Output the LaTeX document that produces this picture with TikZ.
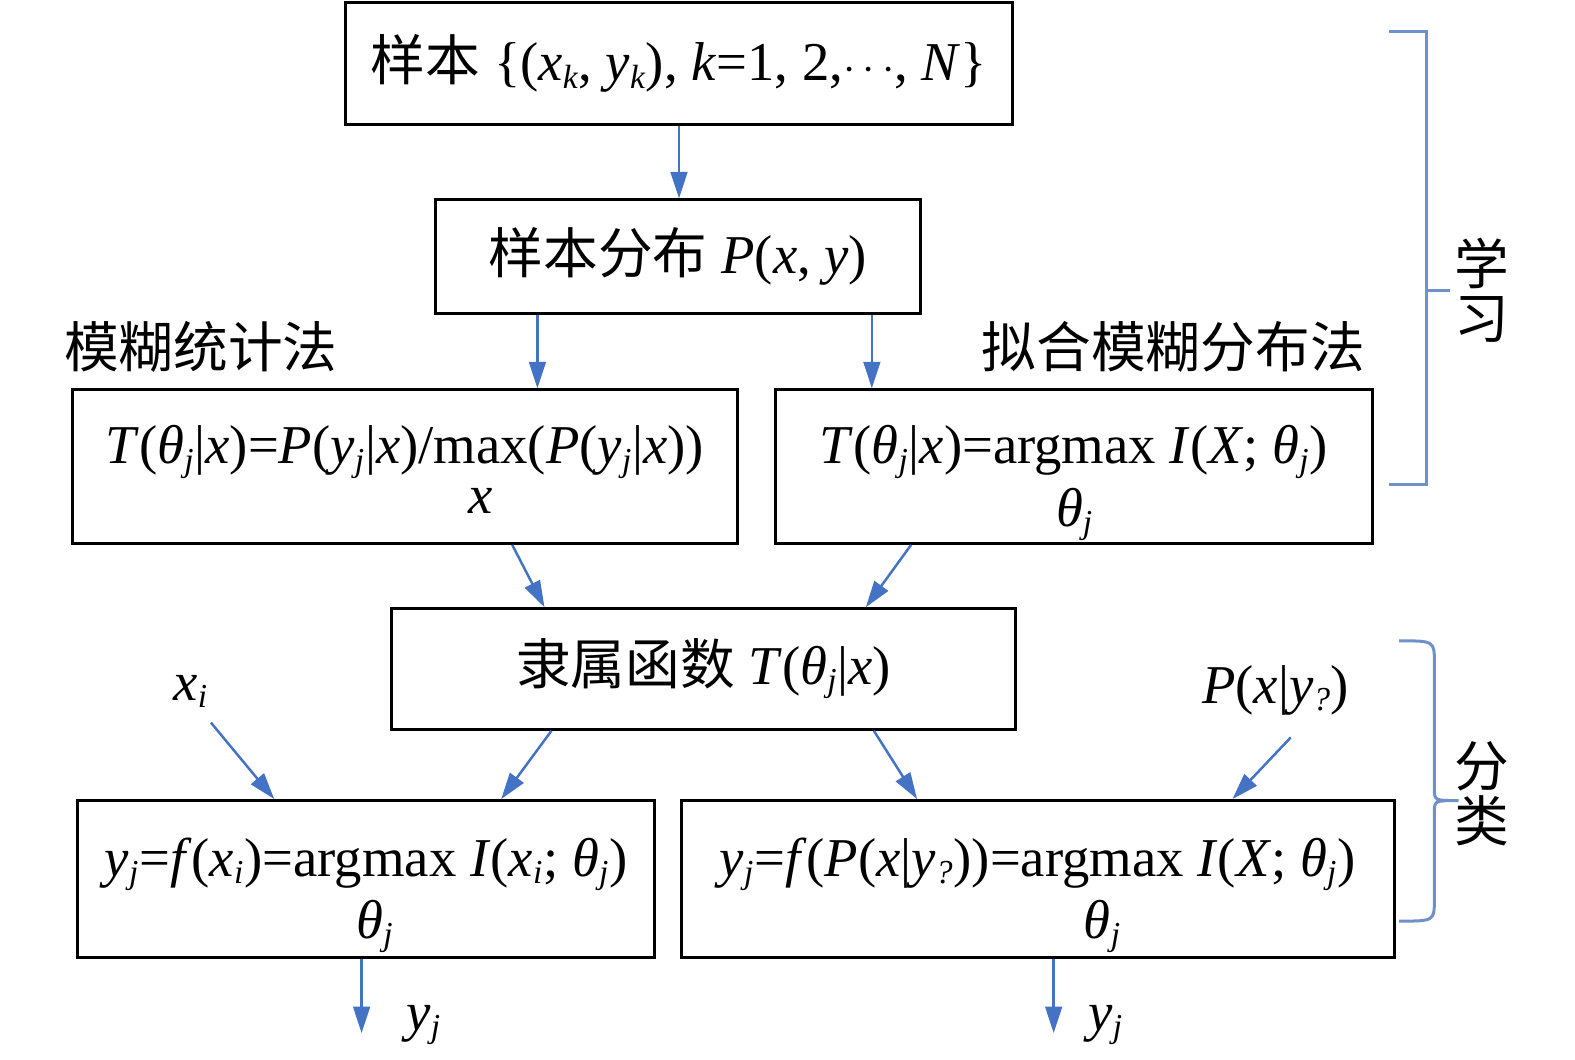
\documentclass[tikz,border=0pt]{standalone}
\usepackage{fontspec}
\setmainfont{Liberation Serif}
\newfontfamily\cjk{Noto Sans CJK SC}
\usetikzlibrary{arrows.meta,calc}
\definecolor{arrblue}{RGB}{68,114,196}
\definecolor{brkblue}{RGB}{112,144,204}
% italic letter, subscript, operator with its limit under it
\newcommand{\vi}[1]{\textit{#1}}
\newcommand{\sbs}[1]{\ensuremath{_{\hbox{\fontsize{19}{21}\selectfont\itshape #1}}}}
\newcommand{\opu}[2]{\ensuremath{\mathop{\hbox{\raisebox{0pt}[\height][0pt]{#1}}}\limits_{\vbox{\kern12pt\hbox{#2}}}}}
\begin{document}
\begin{tikzpicture}[x=0.02cm,y=-0.02cm,
    every node/.style={font=\fontsize{31}{33}\selectfont, inner sep=0pt},
    box/.style={draw, line width=1.7pt},
    twoline/.style={text height=0pt, text depth=3pt},
    arr/.style={draw=arrblue, line width=1.4pt, -{Triangle[length=15pt,width=9.5pt]}},
    brk/.style={draw=brkblue, line width=1.7pt}]
    \useasboundingbox (0,0) rectangle (1568,1055);
    % learning part
    \node[box, minimum width=13.28cm, minimum height=2.44cm] (top) at (676,63)
        {{\cjk 样本} \{(\vi{x}\sbs{k}, \vi{y}\sbs{k}), \vi{k}=1, 2,$\cdots$, \vi{N}\}};
    \node[box, minimum width=9.64cm, minimum height=2.26cm] (dist) at (675,255.5)
        {{\cjk 样本分布} \vi{P}(\vi{x}, \vi{y})};
    \node[box, twoline, minimum width=13.24cm, minimum height=3.06cm] (l3) at (403,464.5)
        {\vi{T}(\vi{θ}\sbs{j}|\vi{x})=\vi{P}(\vi{y}\sbs{j}|\vi{x})/\opu{max}{\vi{x}}(\vi{P}(\vi{y}\sbs{j}|\vi{x}))};
    \node[box, twoline, minimum width=11.88cm, minimum height=3.06cm] (r3) at (1069,464.5)
        {\vi{T}(\vi{θ}\sbs{j}|\vi{x})=\opu{argmax}{\vi{θ}\sbs{j}} \vi{I}(\vi{X}; \vi{θ}\sbs{j})};
    \node (lname) at (200,345) {\cjk 模糊统计法};
    \node (rname) at (1168,345) {\cjk 拟合模糊分布法};
    % classification part
    \node[box, minimum width=12.42cm, minimum height=2.40cm] (mf) at (700.5,666)
        {{\cjk 隶属函数} \vi{T}(\vi{θ}\sbs{j}|\vi{x})};
    \node[box, twoline, minimum width=11.5cm, minimum height=3.12cm] (l5) at (364.5,875)
        {\vi{y}\sbs{j}=\vi{f}(\vi{x}\sbs{i})=\opu{argmax}{\vi{θ}\sbs{j}} \vi{I}(\vi{x}\sbs{i}; \vi{θ}\sbs{j})};
    \node[box, twoline, minimum width=14.2cm, minimum height=3.12cm] (r5) at (1033,875)
        {\vi{y}\sbs{j}=\vi{f}(\vi{P}(\vi{x}|\vi{y}\sbs{?}))=\opu{argmax}{\vi{θ}\sbs{j}} \vi{I}(\vi{X}; \vi{θ}\sbs{j})};
    \node (xi) at (190,688) {\vi{x}\sbs{i}};
    \node (py) at (1270,687) {\vi{P}(\vi{x}|\vi{y}\sbs{?})};
    % arrows
    \draw[arr] (top.south) -- (top.south |- dist.north);
    \draw[arr] ([xshift=-2.8cm]dist.south) -- ([xshift=-2.8cm]dist.south |- l3.north);
    \draw[arr] ([xshift=3.86cm]dist.south) -- ([xshift=3.86cm]dist.south |- r3.north);
    \draw[arr] ([xshift=2.14cm]l3.south) -- ([xshift=-3.17cm]mf.north);
    \draw[arr] ([xshift=-3.24cm]r3.south) -- ([xshift=3.23cm]mf.north);
    \draw[arr] ([xshift=-3.03cm]mf.south) -- ([xshift=2.69cm]l5.north);
    \draw[arr] ([xshift=3.39cm]mf.south) -- ([xshift=-2.4cm]r5.north);
    \draw[arr] ([shift={(0.4cm,-0.3cm)}]xi.south) -- ([xshift=-1.83cm]l5.north);
    \draw[arr] ([shift={(0.3cm,-0.44cm)}]py.south) -- ([xshift=3.88cm]r5.north);
    \draw[arr] ([xshift=-0.09cm]l5.south) -- ++(0,74) coordinate (lout);
    \draw[arr] ([xshift=0.32cm]r5.south) -- ++(0,74) coordinate (rout);
    \node (ly) at ($(lout)+(62,-8)$) {\vi{y}\sbs{j}};
    \node (ry) at ($(rout)+(52,-8)$) {\vi{y}\sbs{j}};
    % brackets
    \draw[brk] (1383,31) -- (1420,31) -- (1420,482) -- (1383,482);
    \draw[brk] (1420,289) -- (1444,289);
    \node[align=center] (learn) at (1475,289) {\cjk 学\\[-2pt]\cjk 习};
    \draw[brk] (1393,638) .. controls (1428,638) .. (1428,660) -- (1428,785)
        .. controls (1428,797) .. (1452,797) .. controls (1428,797) .. (1428,809)
        -- (1428,895) .. controls (1428,917) .. (1393,917);
    \node[align=center] (classify) at (1475,790) {\cjk 分\\[-2pt]\cjk 类};
\end{tikzpicture}
\end{document}
